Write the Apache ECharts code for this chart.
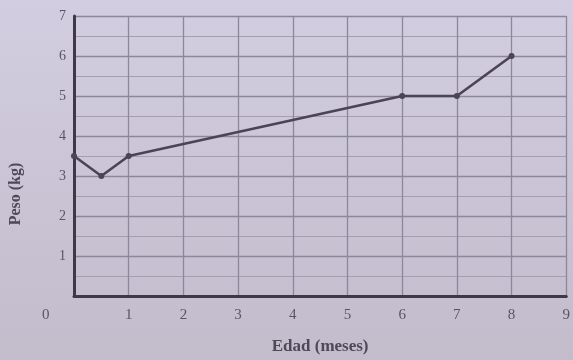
<!DOCTYPE html>
<html><head><meta charset="utf-8">
<script src="https://cdn.jsdelivr.net/npm/echarts@6/dist/echarts.min.js"></script>
<style>html,body{margin:0;padding:0;}#c{width:573px;height:360px;}</style>
</head><body><div id="c"></div>
<script>
const edadMeses = [0, 0.5, 1, 6, 7, 8];
const pesoKg = [3.5, 3, 3.5, 5, 5, 6];
const xTicks = [0,1,2,3,4,5,6,7,8,9];
const yTicks = [0,1,2,3,4,5,6,7];
const xTitle = 'Edad (meses)';
const yTitle = 'Peso (kg)';

const chart = echarts.init(document.getElementById('c'));
const font = 'Liberation Serif';
chart.setOption({
  backgroundColor: {type:'linear', x:0, y:0, x2:0, y2:1, colorStops:[{offset:0,color:'#d2cde0'},{offset:1,color:'#c2bccb'}]},
  animation:false,
  grid:{left:72, right:6, top:16, bottom:62},
  xAxis:{type:'value', min:xTicks[0], max:xTicks[xTicks.length-1], interval:1,
    name:xTitle, nameLocation:'middle', nameGap:42,
    nameTextStyle:{fontFamily:font, fontSize:17, fontWeight:'bold', color:'#4e4858'},
    axisLine:{show:true, lineStyle:{color:'#3e3848', width:3}},
    axisTick:{show:false},
    axisLabel:{fontFamily:font, fontSize:15, color:'#5a5466', margin:12, formatter:v=> v===0?'':String(v), showMaxLabel:true},
    splitLine:{show:true, lineStyle:{color:'#8d879b', width:1.3}}
  },
  yAxis:{type:'value', min:yTicks[0], max:yTicks[yTicks.length-1], interval:1,
    name:yTitle, nameLocation:'middle', nameGap:50, nameRotate:90,
    nameTextStyle:{fontFamily:font, fontSize:16, fontWeight:'bold', color:'#4e4858', padding:[0,76,0,0]},
    axisLine:{show:true, lineStyle:{color:'#3e3848', width:3}},
    axisTick:{show:false},
    axisLabel:{fontFamily:font, fontSize:14, color:'#5a5466', margin:8, formatter:v=> v===0?'':String(v)},
    splitLine:{show:true, lineStyle:{color:'#8d879b', width:1.3}},
    minorTick:{show:false, splitNumber:2},
    minorSplitLine:{show:true, lineStyle:{color:'#a49eb0', width:1}}
  },
  graphic:[{type:'text', left:42, top:308, style:{text:'0', font:'15px "Liberation Serif"', fill:'#5a5466'}}],
  series:[{type:'line', data:edadMeses.map((x,i)=>[x,pesoKg[i]]),
    lineStyle:{color:'#4a4456', width:2.6}, itemStyle:{color:'#4a4456'},
    symbol:'circle', symbolSize:6, showSymbol:true}]
});
</script></body></html>
